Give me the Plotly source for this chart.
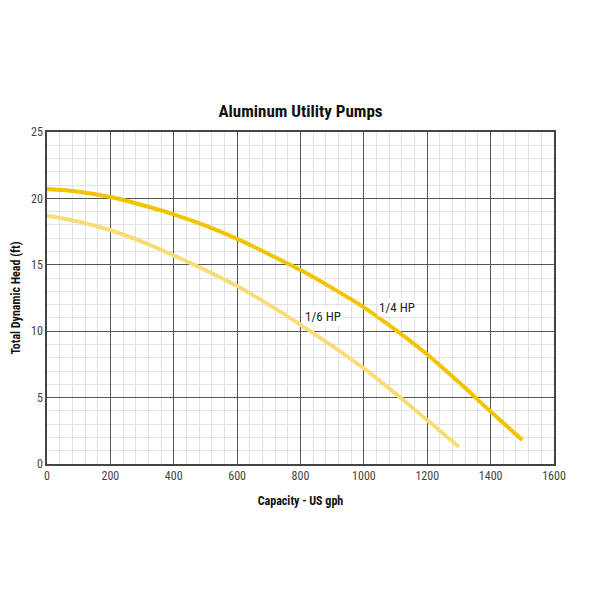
import plotly.graph_objects as go

title = "Aluminum Utility Pumps"
x_title = "Capacity - US gph"
y_title = "Total Dynamic Head (ft)"

hp14_gph = [0, 100, 200, 300, 400, 500, 600, 700, 800, 900, 1000, 1100, 1200, 1300, 1400, 1500]
hp14_head = [20.7, 20.5, 20.1, 19.5, 18.8, 17.95, 16.95, 15.8, 14.6, 13.25, 11.8, 10.1, 8.25, 6.15, 3.95, 1.8]
hp16_gph = [0, 100, 200, 300, 400, 500, 600, 700, 800, 900, 1000, 1100, 1200, 1300]
hp16_head = [18.7, 18.25, 17.6, 16.75, 15.7, 14.6, 13.4, 12.0, 10.5, 8.9, 7.2, 5.3, 3.3, 1.3]

labels = ["1/4 HP", "1/6 HP"]
label_x = [1105, 870]
label_y = [11.75, 11.1]

font = "Liberation Sans Narrow, Roboto Condensed, Arial Narrow, Liberation Sans, sans-serif"

fig = go.Figure()
fig.add_trace(go.Scatter(x=hp16_gph, y=hp16_head, mode="lines", line=dict(color="#F7DC78", width=4, shape="spline"), name=labels[1]))
fig.add_trace(go.Scatter(x=hp14_gph, y=hp14_head, mode="lines", line=dict(color="#F2C300", width=4, shape="spline"), name=labels[0]))

for t, xv, yv in zip(labels, label_x, label_y):
    fig.add_annotation(x=xv, y=yv, text=t, showarrow=False, font=dict(family=font, size=13, color="#222"), bgcolor="white")

axis_common = dict(showline=True, linecolor="#444", linewidth=1.5, mirror=True,
                   gridcolor="#555", gridwidth=1, zeroline=False, automargin=False,
                   ticks="", tickfont=dict(family=font, size=12, color="#444"))

fig.update_xaxes(range=[0, 1600], dtick=200, title=dict(text="<b>" + x_title + "</b>", font=dict(family=font, size=12, color="#111"), standoff=14),
                 minor=dict(showgrid=True, gridcolor="#e2e2e2", gridwidth=1, dtick=40), **axis_common)
fig.update_yaxes(range=[0, 25], dtick=5, title=dict(text="<b>" + y_title + "</b>", font=dict(family=font, size=12, color="#111"), standoff=8),
                 minor=dict(showgrid=True, gridcolor="#e2e2e2", gridwidth=1, dtick=1), **axis_common)

fig.update_layout(
    width=600, height=600,
    margin=dict(l=39, r=54, t=124, b=144),
    paper_bgcolor="white", plot_bgcolor="white",
    showlegend=False,
    title=dict(text="<b>" + title + "</b>", x=(47 - 8 + 507 / 2) / 600, xanchor="center", y=1 - 103 / 600, yanchor="middle",
               font=dict(family=font, size=17, color="#111")),
)

fig.write_html("out.html")
